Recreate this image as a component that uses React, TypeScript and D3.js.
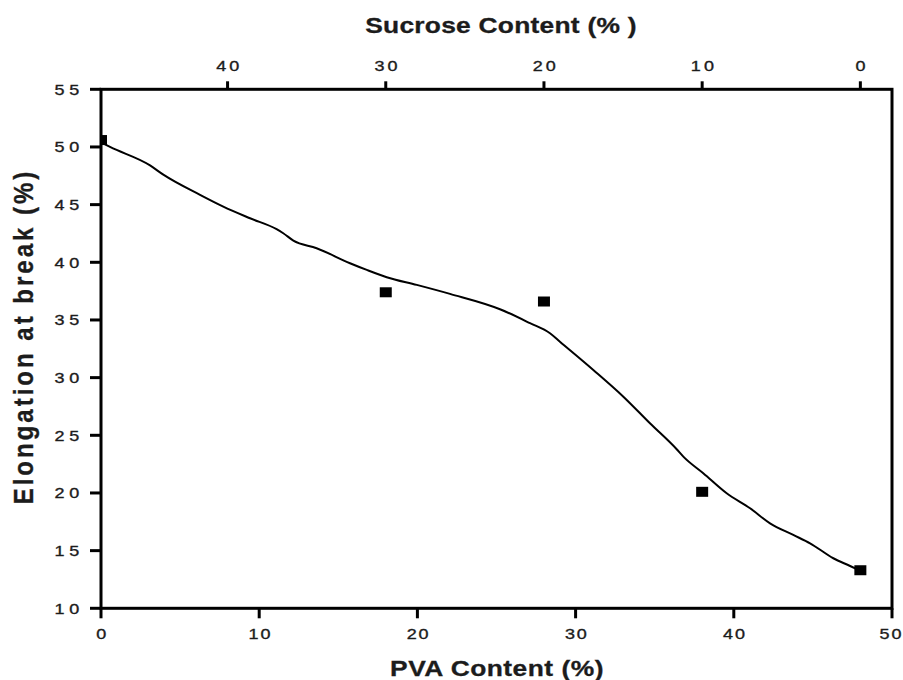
import React from "react";
import * as d3 from "d3";

// PVA content (%) of the measured samples and their elongation at break (%)
const pvaContent = [0, 18, 28, 38, 48];
const elongation = [50.6, 37.4, 36.6, 20.1, 13.3];

// fitted curve: [PVA %, elongation %]
const fitX = [0, 0.57, 3.1, 3.94, 6.26, 7.73, 9.42, 11.1, 11.52, 12.16, 13.63, 15.74, 16.8, 18.06, 19.96, 22.06, 25.22, 27.12, 28.38, 29.01, 31.12, 33.02, 34.7, 36.39, 36.81, 38.07, 39.55, 41.03, 42.29, 43.76, 44.82, 46.29, 47.35, 47.98];
const fitY = [50.4, 50.0, 48.4, 47.6, 45.85, 44.83, 43.82, 42.87, 42.52, 41.88, 41.22, 39.92, 39.34, 38.71, 38.04, 37.26, 35.93, 34.72, 33.85, 33.12, 30.67, 28.35, 26.04, 23.79, 23.15, 21.71, 19.97, 18.67, 17.37, 16.36, 15.64, 14.34, 13.67, 13.26];

const xTicks = [0, 10, 20, 30, 40, 50];
const topTicks = [40, 30, 20, 10, 0];
const yTicks = [10, 15, 20, 25, 30, 35, 40, 45, 50, 55];

const xTitle = "PVA Content (%)";
const topTitle = "Sucrose Content (% )";
const yTitle = "Elongation at break (%)";

const W = 903;
const H = 680;
const left = 101, right = 892, top = 89.3, bottom = 608.3;

export default function App() {
  const x = d3.scaleLinear().domain([0, 50]).range([left, right]);
  const xTop = d3.scaleLinear().domain([48, -2]).range([left, right]);
  const y = d3.scaleLinear().domain([10, 55]).range([bottom, top]);

  const fit = fitX.map((v, i) => [v, fitY[i]] as [number, number]);
  const line = d3.line<[number, number]>().x(d => x(d[0])).y(d => y(d[1])).curve(d3.curveMonotoneX);

  const font = "'Liberation Sans', Arial, Helvetica, sans-serif";
  const txt = "#1c1c1c";
  const sx = 1.2;

  return (
    <svg width={W} height={H} style={{ position: "absolute", left: 0, top: 0, background: "#fff" }}>
      <defs>
        <clipPath id="plot">
          <rect x={left} y={top} width={right - left} height={bottom - top} />
        </clipPath>
      </defs>
      <rect width={W} height={H} fill="#fff" />

      {/* fitted curve */}
      <g clipPath="url(#plot)">
        <path d={line(fit) || ""} fill="none" stroke="#000" strokeWidth={2} />
        {pvaContent.map((p, i) => (
          <rect key={i} x={x(p) - 6} y={y(elongation[i]) - 5} width={12} height={10} fill="#000" />
        ))}
      </g>

      {/* frame */}
      <rect x={left} y={top} width={right - left} height={bottom - top} fill="none" stroke="#000" strokeWidth={3} />

      {/* bottom axis */}
      {xTicks.map(t => (
        <g key={"b" + t}>
          <line x1={x(t)} x2={x(t)} y1={bottom} y2={bottom + 10} stroke="#000" strokeWidth={3} />
          <text transform={`translate(${x(t) + (t === 50 ? -0.5 : 1.2)},639) scale(${sx},1)`} textAnchor="middle"
            fontFamily={font} fontSize={15} letterSpacing={1.6} fill={txt} stroke={txt} strokeWidth={0.35}>{t}</text>
        </g>
      ))}

      {/* top axis */}
      {topTicks.map(t => (
        <g key={"t" + t}>
          <line x1={xTop(t)} x2={xTop(t)} y1={top} y2={top - 8} stroke="#000" strokeWidth={3} />
          <text transform={`translate(${xTop(t) + 1.8},70.5) scale(${sx},1)`} textAnchor="middle"
            fontFamily={font} fontSize={15} letterSpacing={2.6} fill={txt} stroke={txt} strokeWidth={0.35}>{t}</text>
        </g>
      ))}

      {/* left axis */}
      {yTicks.map(t => (
        <g key={"l" + t}>
          <line x1={left - 11} x2={left} y1={y(t)} y2={y(t)} stroke="#000" strokeWidth={3} />
          <text transform={`translate(84,${y(t) + 5.4}) scale(${sx},1)`} textAnchor="end"
            fontFamily={font} fontSize={15} letterSpacing={4} fill={txt} stroke={txt} strokeWidth={0.35}>{t}</text>
        </g>
      ))}

      {/* titles */}
      <text transform={`translate(501,33) scale(${sx},1)`} textAnchor="middle" fontFamily={font}
        fontWeight="bold" fontSize={22} letterSpacing={0.2} fill={txt} stroke={txt} strokeWidth={0.3}>{topTitle}</text>
      <text transform={`translate(497,676) scale(${sx},1)`} textAnchor="middle" fontFamily={font}
        fontWeight="bold" fontSize={22} letterSpacing={0.4} fill={txt} stroke={txt} strokeWidth={0.3}>{xTitle}</text>
      <text transform={`translate(33,338) rotate(-90) scale(1,1.15)`} x={1.5} textAnchor="middle" fontFamily={font}
        fontWeight="bold" fontSize={24} letterSpacing={3} fill={txt} stroke={txt} strokeWidth={0.3}>{yTitle}</text>
    </svg>
  );
}
